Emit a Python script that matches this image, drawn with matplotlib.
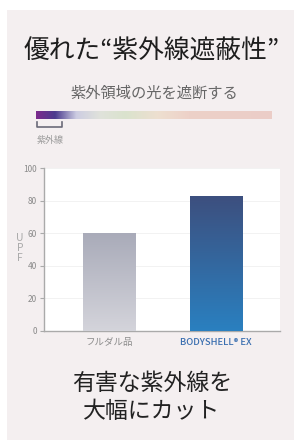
import matplotlib
matplotlib.use("Agg")
import matplotlib.pyplot as plt
import numpy as np
from matplotlib.colors import LinearSegmentedColormap
from matplotlib.patches import Rectangle
from matplotlib.lines import Line2D

plt.rcParams['font.family'] = ['Noto Sans CJK JP', 'DejaVu Sans']

# Data
categories = ["フルダル品", "BODYSHELL® EX"]
upf_values = [60, 83]
y_ticks = [0, 20, 40, 60, 80, 100]
title = "優れた“紫外線遮蔽性”"
subtitle = "紫外領域の光を遮断する"
uv_label = "紫外線"
bottom_lines = ["有害な紫外線を", "大幅にカット"]

W, H = 294, 443
fig = plt.figure(figsize=(W / 100, H / 100), dpi=100)
fig.patch.set_facecolor("white")

def fx(x):
    return x / W

def fy(y):
    return 1 - y / H

# background card
fig.patches.append(Rectangle((fx(7), fy(440)), fx(294) - fx(7), fy(10) - fy(440),
                             transform=fig.transFigure, facecolor="#f4eff0",
                             edgecolor="none", zorder=-10))

fig.text(fx(152), fy(52), title, ha="center", va="center", fontsize=18.5, color="#1e1e1e")
fig.text(fx(154), fy(93), subtitle, ha="center", va="center", fontsize=11, color="#666666")

# spectrum gradient strip
stops = [(0.0, "#7b2a8c"), (0.08, "#4b3b8e"), (0.17, "#cdcde2"), (0.27, "#e0e2db"),
         (0.38, "#dae3cd"), (0.52, "#eedfd0"), (0.65, "#edd1c8"), (1.0, "#ebcdc7")]
spec_cmap = LinearSegmentedColormap.from_list("spec", stops)
sax = fig.add_axes([fx(36), fy(119), fx(272) - fx(36), fy(111) - fy(119)])
sax.imshow(np.linspace(0, 1, 256)[None, :], aspect="auto", cmap=spec_cmap, extent=[0, 1, 0, 1])
sax.set_axis_off()

# bracket under UV portion
bx0, bx1, by0, by1 = fx(37), fx(62), fy(127), fy(122)
fig.lines.append(Line2D([bx0, bx0, bx1, bx1], [by1, by0, by0, by1], transform=fig.transFigure,
                        color="#6a6a78", lw=1.2))
fig.text(fx(50), fy(140), uv_label, ha="center", va="center", fontsize=6.5, color="#9a9a9a")

# chart
ax = fig.add_axes([fx(44), fy(331), fx(280) - fx(44), fy(168) - fy(331)])
ax.set_facecolor("white")
x = np.arange(len(categories))
bars = ax.bar(x, upf_values, width=0.486, color="none", edgecolor="none", zorder=3)
grads = [("#d4d4db", "#a9abb9"), ("#2a80c0", "#3d4f7e")]
for b, (c_bot, c_top) in zip(bars, grads):
    cm = LinearSegmentedColormap.from_list("g", [c_bot, c_top])
    x0 = b.get_x()
    w = b.get_width()
    h = b.get_height()
    im = ax.imshow(np.linspace(0, 1, 256)[:, None], aspect="auto", cmap=cm, origin="lower",
                   extent=[x0, x0 + w, 0, h], zorder=3)
    im.set_clip_path(b)

ax.set_xlim(-0.607, 1.598)
ax.set_ylim(0, 100)
ax.set_yticks(y_ticks)
ax.set_yticklabels([str(t) for t in y_ticks], fontsize=6, color="#8a8a8a")
ax.set_xticks(x)
ax.set_xticklabels(categories, fontsize=6.8)
lbls = ax.get_xticklabels()
lbls[0].set_color("#8a8a8a")
lbls[1].set_color("#3a6fb0")
lbls[1].set_fontweight("medium")
ax.tick_params(axis="x", length=0, pad=5)
ax.tick_params(axis="y", length=3, color="#aaaaaa", pad=2, width=0.8)
for side in ["top", "right"]:
    ax.spines[side].set_visible(False)
for side in ["left", "bottom"]:
    ax.spines[side].set_color("#aaaaaa")
    ax.spines[side].set_linewidth(1.0)
ax.grid(axis="y", color="#f0f0f0", lw=0.6, zorder=0)
ax.set_axisbelow(True)

fig.text(fx(20), fy(248), "U\nP\nF", ha="center", va="center", fontsize=7.5,
         color="#aaaaaa", linespacing=0.95)

fig.text(fx(152), fy(383), bottom_lines[0], ha="center", va="center", fontsize=16.5, color="#222222")
fig.text(fx(152), fy(412), bottom_lines[1], ha="center", va="center", fontsize=16.5, color="#222222")

fig.savefig("out.png", dpi=100, facecolor="white")
